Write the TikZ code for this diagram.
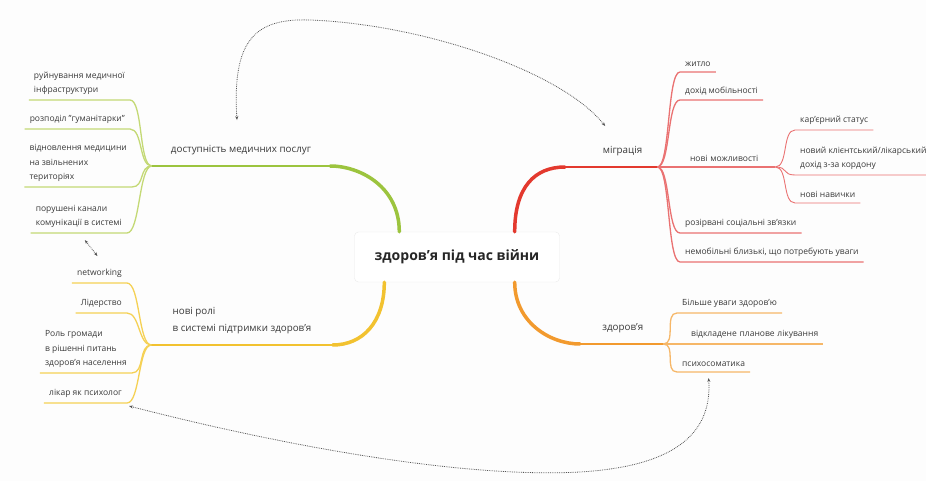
\documentclass[tikz,border=0pt]{standalone}
\usepackage{fontspec}
\setmainfont{Open Sans}
\usetikzlibrary{arrows.meta,calc,backgrounds}
\definecolor{cG}{HTML}{9CC43E}
\definecolor{cGs}{HTML}{C4D975}
\definecolor{cY}{HTML}{F2C230}
\definecolor{cYs}{HTML}{F5D155}
\definecolor{cR}{HTML}{E3392E}
\definecolor{cRs}{HTML}{EA7272}
\definecolor{cO}{HTML}{F29A2E}
\definecolor{cOs}{HTML}{F6B768}
\definecolor{cInk}{HTML}{3A3A3A}
\definecolor{cRel}{HTML}{555555}
\definecolor{cPaper}{HTML}{FDFDFD}
\tikzset{
  >=Stealth,
  root/.style ={rounded corners=4pt,draw=black!8,fill=white,text=black!85,
                font=\bfseries\fontsize{14}{16}\selectfont,minimum width=205pt,minimum height=50pt},
  topic/.style={font=\fontsize{9.8}{17}\selectfont,text=cInk,align=left,inner ysep=11pt},
  leafl/.style={font=\fontsize{8.5}{14.5}\selectfont,text=cInk,align=left,
                inner xsep=5pt,inner ysep=5pt,anchor=south east},
  leafr/.style={leafl,anchor=south west},
  gmain/.style={cG,line width=3.5pt,line cap=round}, gline/.style={cG,line width=2pt},
  gsub/.style ={cGs,line width=1.3pt},
  ymain/.style={cY,line width=3.5pt,line cap=round}, yline/.style={cY,line width=2pt},
  ysub/.style ={cYs,line width=1.3pt},
  rmain/.style={cR,line width=3.5pt,line cap=round}, rline/.style={cR,line width=2pt},
  rsub/.style ={cRs,line width=1.3pt},
  omain/.style={cO,line width=3.5pt,line cap=round}, oline/.style={cO,line width=2pt},
  osub/.style ={cOs,line width=1.3pt},
  rel/.style  ={{Stealth[length=4pt,width=3pt]}-{Stealth[length=4pt,width=3pt]},
                densely dotted,cRel,line width=.8pt},
}

\begin{document}
\begin{tikzpicture}[x=1pt,y=-1pt]
\useasboundingbox (0,0) rectangle (926,481);
\fill[cPaper] (0,0) rectangle (926,481);
\node[root] (root) at (457,257) {здоров'я під час війни};

% green: access to care
\node[topic,anchor=south,minimum width=178pt] (dost) at (241,166) {доступність медичних послуг};
\node[leafl] (g1) at (130,100) {руйнування медичної\\інфраструктури};
\node[leafl] (g2) at (130,129) {розподіл "гуманітарки"};
\node[leafl] (g3) at (132,187) {відновлення медицини\\на звільнених\\територіях};
\node[leafl] (g4) at (127,233) {порушені канали\\комунікації в системі};
\draw[gmain] ($(root.north west)+(45,0)$) .. controls +(0,-45) and +(30,0) .. (dost.south east);
\draw[gline] (dost.south east) -- (dost.south west);
\draw[gsub] (dost.south west) .. controls +(-13,0) and +(13,0) .. (g1.south east) -- (g1.south west);
\draw[gsub] (dost.south west) .. controls +(-13,0) and +(13,0) .. (g2.south east) -- (g2.south west);
\draw[gsub] (dost.south west) .. controls +(-13,0) and +(13,0) .. (g3.south east) -- (g3.south west);
\draw[gsub] (dost.south west) .. controls +(-13,0) and +(13,0) .. (g4.south east) -- (g4.south west);

% yellow: new roles
\node[topic,anchor=south,minimum width=181pt] (roli) at (242,345) {нові ролі\\в системі підтримки здоров'я};
\node[leafl] (y1) at (127,283) {networking};
\node[leafl] (y2) at (127,313) {Лідерство};
\node[leafl] (y3) at (132,373) {Роль громади\\в рішенні питань\\здоров'я населення};
\node[leafl] (y4) at (127,403) {лікар як психолог};
\draw[ymain] ($(root.south west)+(30,0)$) .. controls +(0,40) and +(30,0) .. (roli.south east);
\draw[yline] (roli.south east) -- (roli.south west);
\draw[ysub] (roli.south west) .. controls +(-13,0) and +(13,0) .. (y1.south east) -- (y1.south west);
\draw[ysub] (roli.south west) .. controls +(-13,0) and +(13,0) .. (y2.south east) -- (y2.south west);
\draw[ysub] (roli.south west) .. controls +(-13,0) and +(13,0) .. (y3.south east) -- (y3.south west);
\draw[ysub] (roli.south west) .. controls +(-13,0) and +(13,0) .. (y4.south east) -- (y4.south west);

% red: migration
\node[topic,anchor=south west,text width=62pt,inner xsep=15pt,align=right] (mig) at (565,167) {міграція};
\node[leafr] (r1) at (680,72) {житло};
\node[leafr] (r2) at (680,100) {дохід мобільності};
\node[leafr,text width=84pt,inner xsep=17pt,align=right] (r3) at (657,167) {нові можливості};
\node[leafr] (r31) at (795,130) {кар'єрний статус};
\node[leafr] (r32) at (795,175) {новий клієнтський/лікарський\\дохід з-за кордону};
\node[leafr] (r33) at (795,203) {нові навички};
\node[leafr] (r4) at (680,233) {розірвані соціальні зв'язки};
\node[leafr] (r5) at (680,262) {немобільні близькі, що потребують уваги};
\draw[rmain] ($(root.north east)+(-45,0)$) .. controls +(0,-45) and +(-30,0) .. (mig.south west);
\draw[rline] (mig.south west) -- (mig.south east);
\draw[rsub] (mig.south east) .. controls +(13,0) and +(-13,0) .. (r1.south west) -- (r1.south east);
\draw[rsub] (mig.south east) .. controls +(13,0) and +(-13,0) .. (r2.south west) -- (r2.south east);
\draw[rsub] (r3.south west) -- (r3.south east);
\draw[rsub] (mig.south east) .. controls +(13,0) and +(-13,0) .. (r4.south west) -- (r4.south east);
\draw[rsub] (mig.south east) .. controls +(13,0) and +(-13,0) .. (r5.south west) -- (r5.south east);
\draw[rsub,line width=.9pt] (r3.south east) .. controls +(13,0) and +(-13,0) .. (r31.south west) -- (r31.south east);
\draw[rsub,line width=.9pt] (r3.south east) .. controls +(13,0) and +(-13,0) .. (r32.south west) -- (r32.south east);
\draw[rsub,line width=.9pt] (r3.south east) .. controls +(13,0) and +(-13,0) .. (r33.south west) -- (r33.south east);

% orange: health
\node[topic,anchor=south west,text width=43pt,inner xsep=20pt,align=right] (zdr) at (580,344) {здоров'я};
\node[leafr] (o1) at (677,313) {Більше уваги здоров'ю};
\node[leafr,text width=150pt,align=right] (o2) at (663,344) {відкладене планове лікування};
\node[leafr] (o3) at (677,372) {психосоматика};
\draw[omain] ($(root.south east)+(-45,0)$) .. controls +(0,40) and +(-30,0) .. (zdr.south west);
\draw[oline] (zdr.south west) -- (zdr.south east);
\draw[osub] (zdr.south east) .. controls +(13,0) and +(-13,0) .. (o1.south west) -- (o1.south east);
\draw[osub] (o2.south west) -- (o2.south east);
\draw[osub] (zdr.south east) .. controls +(13,0) and +(-13,0) .. (o3.south west) -- (o3.south east);

% relationships
\draw[rel] ([xshift=-4pt,yshift=14pt]dost.north) .. controls (232,40) and (255,18) .. (310,20)
  .. controls (420,24) and (560,70) .. ([xshift=-6pt,yshift=9pt]mig.north);
\draw[rel] ([xshift=2pt,yshift=-3pt]y4.south east) .. controls (300,450) and (470,478) .. (580,472)
  .. controls (680,466) and (712,430) .. ([xshift=-5pt,yshift=-6pt]o3.south);
\draw[rel] ([xshift=6pt,yshift=-7pt]g4.south) -- ([xshift=-2pt,yshift=8pt]y1.north);
\end{tikzpicture}
\end{document}
